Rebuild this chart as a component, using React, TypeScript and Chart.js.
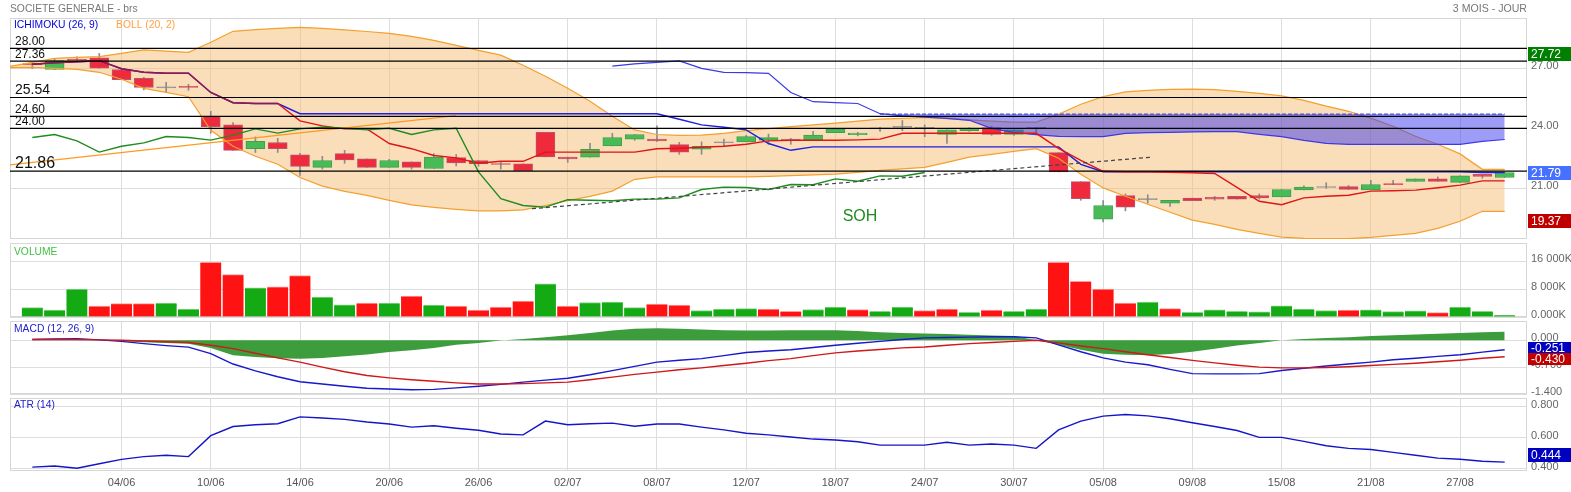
import React, { useEffect, useRef } from "react";
import { Chart, registerables } from "chart.js";
Chart.register(...registerables);

// ---------------- data ----------------
const dates = [
  "29/05","30/05","31/05","03/06","04/06","05/06","06/06","07/06","10/06","11/06",
  "12/06","13/06","14/06","17/06","18/06","19/06","20/06","21/06","24/06","25/06",
  "26/06","27/06","28/06","01/07","02/07","03/07","04/07","05/07","08/07","09/07",
  "10/07","11/07","12/07","15/07","16/07","17/07","18/07","19/07","22/07","23/07",
  "24/07","25/07","26/07","29/07","30/07","31/07","01/08","02/08","05/08","06/08",
  "07/08","08/08","09/08","12/08","13/08","14/08","15/08","16/08","19/08","20/08",
  "21/08","22/08","23/08","26/08","27/08","28/08","29/08",
];
const xTickIdx = [4, 8, 12, 16, 20, 24, 28, 32, 36, 40, 44, 48, 52, 56, 60, 64];

const opens = [
  27.22,26.94,27.45,27.52,26.94,26.50,26.02,26.08,24.60,24.17,
  22.98,23.29,22.67,22.05,22.73,22.47,22.05,22.32,21.99,22.54,
  22.39,22.22,22.22,23.80,22.56,22.56,23.12,23.46,23.46,23.18,
  22.96,23.27,23.32,23.41,23.41,23.41,23.78,23.68,23.97,24.05,
  24.00,23.69,23.88,24.03,23.69,24.00,22.78,21.33,19.46,20.63,
  20.43,20.26,20.51,20.55,20.60,20.63,20.57,20.92,21.04,21.09,
  20.92,21.24,21.35,21.47,21.30,21.70,21.54,
];
const highs = [
  27.31,27.49,27.57,27.74,26.94,26.55,26.30,26.20,24.85,24.29,
  23.57,23.50,22.75,22.60,22.90,22.47,22.45,22.32,22.73,22.69,
  22.39,22.30,22.22,23.80,22.56,23.25,23.75,23.69,24.12,23.30,
  23.32,23.46,23.65,23.71,23.50,23.85,24.00,23.80,24.05,24.39,
  24.17,23.92,24.03,24.10,24.00,24.05,22.78,21.33,20.39,20.72,
  20.68,20.40,20.51,20.60,20.60,20.72,20.94,21.12,21.28,21.14,
  21.40,21.40,21.47,21.57,21.62,21.70,21.79,
];
const lows = [
  26.98,26.94,27.35,27.00,26.43,25.92,25.79,25.90,23.75,22.90,
  22.79,22.79,21.65,21.96,22.25,22.05,22.05,21.96,21.99,22.12,
  22.10,21.96,21.88,22.57,22.30,22.56,23.12,23.40,23.35,22.70,
  22.70,23.10,23.32,23.20,23.20,23.41,23.78,23.62,23.85,23.88,
  23.58,23.24,23.85,23.65,23.65,23.70,21.82,20.40,19.32,19.87,
  20.26,20.09,20.38,20.40,20.46,20.46,20.57,20.92,21.00,20.94,
  20.92,21.18,21.35,21.35,21.28,21.50,21.54,
];
const closes = [
  27.18,27.38,27.40,27.01,26.43,26.04,26.02,26.05,24.08,22.90,
  23.35,22.98,22.10,22.39,22.42,22.05,22.39,22.05,22.56,22.27,
  22.22,22.19,21.88,22.57,22.47,22.95,23.54,23.69,23.37,22.81,
  23.10,23.27,23.59,23.54,23.41,23.66,23.97,23.76,23.97,24.05,
  24.00,23.92,24.00,23.69,23.92,24.00,21.82,20.48,20.14,20.06,
  20.43,20.40,20.38,20.46,20.46,20.52,20.94,21.06,21.04,20.94,
  21.19,21.18,21.47,21.35,21.62,21.60,21.79,
];

// Bollinger (20,2): first value belongs to the day before the first candle (index -1)
const bollUpper = [
  27.10,
  27.30,27.50,27.55,27.58,27.75,27.92,27.86,27.80,28.30,28.85,
  28.93,29.00,29.05,29.00,28.92,28.84,28.75,28.60,28.40,28.15,
  27.90,27.66,27.15,26.60,26.00,25.35,24.60,23.92,23.69,23.65,
  23.66,23.75,23.88,23.98,24.08,24.17,24.26,24.36,24.46,24.50,
  24.54,24.48,24.42,24.36,24.31,24.31,24.70,25.20,25.58,25.82,
  25.90,25.95,25.96,25.93,25.85,25.75,25.62,25.40,25.11,24.85,
  24.51,24.10,23.60,23.20,22.72,21.95,21.95,
];
const bollLower = [
  27.03,
  27.05,27.00,26.95,26.80,26.45,26.00,25.80,25.58,23.90,23.10,
  22.60,22.20,21.54,21.11,20.85,20.65,20.40,20.17,20.05,19.95,
  19.87,19.87,19.92,20.14,20.38,20.60,20.86,21.45,21.57,21.57,
  21.57,21.57,21.57,21.60,21.63,21.67,21.71,21.80,21.90,21.97,
  22.05,22.30,22.56,22.70,22.85,22.98,22.50,21.70,21.02,20.60,
  20.20,19.80,19.41,19.20,18.95,18.75,18.56,18.50,18.48,18.48,
  18.55,18.65,18.75,19.00,19.35,19.85,19.85,
];

// Ichimoku (26, 9)
const tenkan = [
  27.20,27.28,27.33,27.38,26.98,26.80,26.75,26.75,25.79,25.28,
  25.24,25.24,24.37,24.12,23.97,23.97,23.24,22.98,22.64,22.52,
  22.25,22.35,22.35,22.81,22.81,22.81,22.81,22.81,22.98,23.00,
  23.05,23.10,23.20,23.37,23.40,23.40,23.40,23.42,23.46,23.75,
  23.75,23.75,23.75,23.75,23.75,23.75,23.00,22.40,21.85,21.83,
  21.83,21.80,21.78,21.74,21.05,20.35,20.18,20.52,20.60,20.65,
  20.86,20.88,20.91,21.03,21.16,21.37,21.37,
];
const kijun = [
  27.20,27.28,27.33,27.38,26.98,26.80,26.75,26.75,25.79,25.28,
  25.24,25.24,24.73,24.73,24.73,24.73,24.73,24.73,24.73,24.73,
  24.73,24.73,24.73,24.73,24.73,24.73,24.73,24.73,24.73,24.45,
  24.17,24.05,23.92,23.24,22.90,23.07,23.07,23.07,23.07,23.07,
  23.07,23.07,23.07,23.07,23.07,23.07,23.07,22.20,21.83,21.83,
  21.83,21.83,21.83,21.83,21.83,21.83,21.83,21.83,21.83,21.83,
  21.83,21.83,21.83,21.83,21.83,21.79,21.79,
];
const senkouAStart = 26;
const senkouA = [
  27.11,27.22,27.30,27.37,27.00,26.80,26.78,26.75,25.79,25.33,
  25.28,25.24,24.73,24.62,24.56,24.50,24.40,24.00,23.78,23.68,
  23.60,23.58,23.58,23.75,23.78,23.80,23.82,23.83,23.83,23.70,
  23.58,23.40,23.25,23.20,23.20,23.20,23.20,23.20,23.20,23.35,
  23.44,
];
const senkouBStart = 38;
const senkouB = [
  24.71,24.71,24.71,24.71,24.71,24.71,24.71,24.71,24.71,24.71,
  24.71,24.71,24.71,24.71,24.71,24.71,24.71,24.71,24.71,24.71,
  24.71,24.71,24.71,24.71,24.71,24.71,24.71,24.71,24.71,
];
const chikou = [
  23.54,23.69,23.37,22.81,23.10,23.27,23.59,23.54,23.41,23.66,
  23.97,23.76,23.97,24.05,24.00,23.92,24.00,23.69,23.92,24.00,
  21.82,20.48,20.14,20.06,20.43,20.40,20.38,20.46,20.46,20.52,
  20.94,21.06,21.04,20.94,21.19,21.18,21.47,21.35,21.62,21.60,
  21.79,
];

// drawn horizontal levels and trend lines
const priceLevels = [28.0, 27.36, 25.54, 24.6, 24.0, 21.86];
const trendX = [22.4, 50.1];
const trendY = [19.98, 22.55];
const orangeX = [-1, 19];
const orangeY = [22.17, 24.63];
const noteText = "SOH";
const noteX = 37.1;
const noteY = 19.61;
const mainLastValues = [27.72, 21.79, 19.37];

// Volume (thousands)
const volumes = [
  2700,1950,7950,3100,3800,3800,3950,2250,15600,12100,
  8350,8650,11850,5700,3500,3950,3950,6000,3400,3100,
  1950,2800,4550,9500,3100,4150,4250,2700,3700,3400,
  1850,2250,2400,2250,1650,2150,2800,2150,1650,2800,
  1850,2250,1350,1950,1650,2250,15600,10200,7950,3950,
  4250,2400,1350,2050,1650,1450,3200,2250,1850,1950,
  2050,1550,1750,1250,2800,1650,500,
];
const volumeUp = [
  1,1,1,0,0,0,1,1,0,0, 1,0,0,1,1,0,1,0,1,0,
  0,0,0,1,0,1,1,1,0,0, 1,1,1,0,0,1,1,0,1,1,
  0,0,1,0,1,1,0,0,0,0, 1,0,1,1,1,1,1,1,1,0,
  1,1,1,0,1,1,1,
];

// MACD (12, 26, 9)
const macdLine = [
  0.02,0.03,0.04,0.01,-0.03,-0.09,-0.14,-0.18,-0.35,-0.62,
  -0.80,-0.95,-1.08,-1.14,-1.20,-1.25,-1.27,-1.29,-1.28,-1.24,
  -1.20,-1.15,-1.09,-1.04,-0.99,-0.90,-0.79,-0.68,-0.57,-0.52,
  -0.48,-0.40,-0.32,-0.28,-0.25,-0.19,-0.13,-0.08,-0.03,0.02,
  0.06,0.07,0.08,0.09,0.09,0.06,-0.12,-0.30,-0.46,-0.57,
  -0.64,-0.76,-0.87,-0.875,-0.875,-0.87,-0.79,-0.73,-0.67,-0.62,
  -0.57,-0.51,-0.47,-0.42,-0.38,-0.31,-0.25,
];
const macdSignal = [
  0.02,0.02,0.02,0.01,0.00,-0.02,-0.04,-0.06,-0.13,-0.22,
  -0.34,-0.46,-0.57,-0.70,-0.82,-0.92,-0.98,-1.03,-1.07,-1.11,
  -1.14,-1.14,-1.13,-1.11,-1.09,-1.03,-0.96,-0.89,-0.83,-0.77,
  -0.72,-0.66,-0.60,-0.53,-0.48,-0.40,-0.33,-0.28,-0.24,-0.20,
  -0.175,-0.13,-0.09,-0.06,-0.03,0.00,-0.07,-0.15,-0.22,-0.30,
  -0.38,-0.45,-0.525,-0.59,-0.65,-0.70,-0.72,-0.72,-0.71,-0.69,
  -0.66,-0.63,-0.60,-0.56,-0.52,-0.47,-0.43,
];
const macdHist = [
  0.00,0.01,0.02,0.00,-0.03,-0.05,-0.07,-0.09,-0.20,-0.39,
  -0.44,-0.47,-0.48,-0.46,-0.42,-0.37,-0.31,-0.26,-0.20,-0.12,
  -0.07,-0.01,0.03,0.08,0.13,0.19,0.25,0.30,0.31,0.30,
  0.28,0.26,0.25,0.25,0.26,0.26,0.26,0.24,0.21,0.19,
  0.175,0.16,0.14,0.12,0.11,0.00,-0.12,-0.25,-0.35,-0.38,
  -0.39,-0.36,-0.30,-0.22,-0.14,-0.07,0.00,0.03,0.06,0.08,
  0.11,0.13,0.15,0.17,0.19,0.21,0.22,
];
const macdLastValues = [-0.251, -0.43];

// ATR (14)
const atr = [
  0.412,0.419,0.405,0.434,0.462,0.480,0.489,0.480,0.615,0.674,
  0.685,0.692,0.736,0.729,0.720,0.703,0.690,0.670,0.679,0.663,
  0.650,0.626,0.620,0.709,0.685,0.692,0.696,0.676,0.690,0.690,
  0.670,0.652,0.631,0.620,0.606,0.593,0.587,0.576,0.554,0.554,
  0.554,0.572,0.554,0.561,0.554,0.533,0.652,0.709,0.741,0.752,
  0.743,0.724,0.698,0.674,0.648,0.604,0.604,0.578,0.550,0.533,
  0.526,0.507,0.489,0.470,0.463,0.450,0.444,
];
const atrLast = 0.444;

// axis ticks
const mainTicks = [27, 24, 21];
const volTicks = [16000, 8000, 0];
const volTickLabels = ["16 000K", "8 000K", "0.000K"];
const macdTicks = [0, -0.7, -1.4];
const atrTicks = [0.8, 0.6, 0.4];

// ---------------- style ----------------
const W = 1571;
const FONT = '"Liberation Sans", Arial, Helvetica, sans-serif';
const GRID = "#dddddd";
const levelFontSize = [12, 12, 14, 12, 12, 16];

const pts = (arr: number[], start = 0) => arr.map((y, k) => ({ x: k + start, y }));

function xScale(show: boolean) {
  return {
    type: "linear",
    min: -1,
    max: 67,
    offset: false,
    afterBuildTicks: (s: any) => {
      s.ticks = xTickIdx.map((v) => ({ value: v }));
    },
    afterFit: (s: any) => {
      s.height = show ? 21 : 0;
      s.paddingLeft = 0;
      s.paddingRight = 0;
    },
    grid: { color: GRID, lineWidth: 1, drawTicks: false, offset: false },
    border: { display: false },
    ticks: {
      display: show,
      autoSkip: false,
      maxRotation: 0,
      padding: 5,
      color: "#555",
      font: { family: FONT, size: 11 },
      callback: (v: number) => dates[v] ?? "",
    },
  };
}

function yScale(min: number, max: number, ticks: number[], fmt: (v: number, i: number) => string) {
  return {
    type: "linear",
    position: "right",
    min,
    max,
    beginAtZero: false,
    afterBuildTicks: (s: any) => {
      s.ticks = ticks.map((v) => ({ value: v }));
    },
    afterFit: (s: any) => {
      s.width = 44;
      s.paddingTop = 0;
      s.paddingBottom = 0;
    },
    grid: { color: GRID, lineWidth: 1, drawTicks: false },
    border: { display: false },
    ticks: {
      padding: 4,
      color: "#666",
      labelOffset: -2,
      font: { family: FONT, size: 11 },
      callback: (v: number, i: number) => fmt(v, i),
    },
  };
}

type Title = { text: string; color: string };
type Box = { value: number; text: string; color: string; dy?: number; h?: number };

function panelPlugin(titles: Title[], boxes: Box[], titleDy: number) {
  return {
    id: "panelDecor",
    beforeDatasetsDraw(chart: any) {
      const { ctx, chartArea: a } = chart;
      ctx.save();
      ctx.strokeStyle = "#d6d6d6";
      ctx.lineWidth = 1;
      ctx.strokeRect(
        Math.round(a.left) + 0.5,
        Math.round(a.top) + 0.5,
        Math.round(a.right - a.left) - 1,
        Math.round(a.bottom - a.top) - 1
      );
      ctx.restore();
    },
    afterDraw(chart: any) {
      const { ctx, chartArea: a, scales } = chart;
      ctx.save();
      ctx.font = `10.3px ${FONT}`;
      ctx.textBaseline = "middle";
      let x = a.left + 4;
      titles.forEach((t) => {
        ctx.fillStyle = t.color;
        ctx.fillText(t.text, x, a.top + titleDy);
        x += ctx.measureText(t.text).width + 18;
      });
      boxes.forEach((b) => {
        const h = b.h ?? 14;
        const yc = scales.y.getPixelForValue(b.value) + (b.dy ?? 0);
        const x0 = a.right + 1;
        ctx.fillStyle = b.color;
        ctx.fillRect(x0, Math.round(yc - h / 2), chart.width - x0, h);
        ctx.fillStyle = "#ffffff";
        ctx.font = `12px ${FONT}`;
        ctx.textAlign = "left";
        ctx.fillText(b.text, x0 + 3, Math.round(yc) + 0.5);
      });
      ctx.restore();
    },
  };
}

const mainExtra = {
  id: "mainExtra",
  afterDatasetsDraw(chart: any) {
    const { ctx, chartArea: a, scales } = chart;
    const ys = scales.y;
    const xs = scales.x;
    ctx.save();
    ctx.fillStyle = "#111";
    ctx.textBaseline = "alphabetic";
    priceLevels.forEach((v, k) => {
      ctx.font = `${levelFontSize[k]}px ${FONT}`;
      ctx.fillText(v.toFixed(2), a.left + 5, ys.getPixelForValue(v) - 3.5);
    });
    ctx.font = `16px ${FONT}`;
    ctx.fillStyle = "#1E8C1E";
    ctx.textAlign = "center";
    ctx.textBaseline = "middle";
    ctx.fillText(noteText, xs.getPixelForValue(noteX), ys.getPixelForValue(noteY));
    ctx.restore();
  },
  afterDraw(chart: any) {
    const { ctx, chartArea: a } = chart;
    ctx.save();
    ctx.font = `10.3px ${FONT}`;
    ctx.fillStyle = "#777";
    ctx.textBaseline = "middle";
    ctx.fillText("SOCIETE GENERALE - brs", a.left, 9);
    ctx.textAlign = "right";
    ctx.font = `10.6px ${FONT}`;
    ctx.fillText("3 MOIS - JOUR", a.right, 9);
    ctx.restore();
  },
};

function baseOptions(padTop: number, padBottom: number, y: any, showX: boolean) {
  return {
    responsive: false,
    animation: false,
    events: [],
    layout: { padding: { left: 10, right: 0, top: padTop, bottom: padBottom } },
    plugins: { legend: { display: false }, tooltip: { enabled: false } },
    scales: { x: xScale(showX), y },
  };
}

const line = (data: any[], color: string, width: number, order: number, extra: any = {}) => ({
  type: "line",
  data,
  borderColor: color,
  borderWidth: width,
  pointRadius: 0,
  tension: 0,
  fill: false,
  order,
  ...extra,
});

function mainConfig(): any {
  const ds: any[] = [];
  const add = (d: any) => {
    ds.push(d);
    return ds.length - 1;
  };
  const RED = "#EF2A3C";
  const GREEN = "#47BB55";
  const bodies = opens.map((o, i) => ({ x: i, y: [o, closes[i]] }));
  const bodyFill = opens.map((o, i) => (closes[i] > o ? GREEN : closes[i] < o ? RED : "#8c8c8c"));
  const bodyBorder = opens.map((o, i) => (closes[i] > o ? "#3FA04C" : closes[i] < o ? "#B9566A" : "#8c8c8c"));
  const wicks = highs.map((h, i) => ({ x: i, y: [lows[i], h] }));

  const iBL = add(line(pts(bollLower, -1), "rgba(0,0,0,0)", 0, 13));
  add(line(pts(bollUpper, -1), "rgba(0,0,0,0)", 0, 12, { fill: iBL, backgroundColor: "rgba(246,189,118,0.5)" }));
  add({ type: "bar", data: wicks, backgroundColor: "#8c8c8c", barThickness: 1, grouped: false, order: 11 });
  add({
    type: "bar",
    data: bodies,
    backgroundColor: bodyFill,
    borderColor: bodyBorder,
    borderWidth: 1,
    borderSkipped: false,
    barThickness: 19,
    minBarLength: 1,
    grouped: false,
    order: 10,
  });
  add(line(pts(bollUpper, -1), "#F4A02E", 1.2, 9));
  add(line(pts(bollLower, -1), "#F4A02E", 1.2, 9));
  const iCL = add(line(pts(senkouA.slice(senkouBStart - senkouAStart), senkouBStart), "rgba(0,0,0,0)", 0, 8));
  add(line(pts(senkouB, senkouBStart), "#4A4AF0", 1.2, 7, {
    borderDash: [4, 2],
    fill: iCL,
    backgroundColor: "rgba(50,50,240,0.48)",
  }));
  add(line(pts(senkouA, senkouAStart), "#3A3AE6", 1.2, 6));
  add(line(pts(kijun), "#1E1EE0", 1.4, 5));
  add(line(pts(tenkan), "#E01515", 1.4, 4, {
    segment: { borderColor: (c: any) => (c.p0DataIndex < 11 ? "#9A1842" : "#E01515") },
  }));
  add(line(pts(chikou), "#1E8C1E", 1.4, 3));
  add(line(orangeX.map((x, k) => ({ x, y: orangeY[k] })), "#FF9A1A", 1.2, 2));
  add(line(trendX.map((x, k) => ({ x, y: trendY[k] })), "#444444", 1.2, 2, { borderDash: [4, 3] }));
  priceLevels.forEach((v) => add(line([{ x: -1, y: v }, { x: 67, y: v }], "#000000", 1.2, 1)));

  return {
    type: "line",
    data: { datasets: ds },
    options: baseOptions(18, 1, yScale(18.465, 29.515, mainTicks, (v) => v.toFixed(2)), false),
    plugins: [
      panelPlugin(
        [
          { text: "ICHIMOKU (26, 9)", color: "#0000DD" },
          { text: "BOLL (20, 2)", color: "#FFA040" },
        ],
        [
          { value: mainLastValues[0], text: mainLastValues[0].toFixed(2), color: "#008000" },
          { value: mainLastValues[1], text: mainLastValues[1].toFixed(2), color: "#4670FF" },
          { value: mainLastValues[2], text: mainLastValues[2].toFixed(2), color: "#C00000" },
        ],
        7
      ),
      mainExtra,
    ],
  };
}

function volumeConfig(): any {
  return {
    type: "line",
    data: {
      datasets: [
        {
          type: "bar",
          data: pts(volumes),
          backgroundColor: volumeUp.map((u) => (u ? "#14AA14" : "#FF1212")),
          borderColor: volumeUp.map((u) => (u ? "#86D486" : "#FF9A9A")),
          borderWidth: { top: 1, left: 0, right: 0, bottom: 0 },
          barThickness: 21,
          grouped: false,
        },
      ],
    },
    options: baseOptions(3, 3, yScale(0, 21150, volTicks, (_v, i) => volTickLabels[i]), false),
    plugins: [panelPlugin([{ text: "VOLUME", color: "#44C044" }], [], 9)],
  };
}

function macdConfig(): any {
  return {
    type: "line",
    data: {
      datasets: [
        line(pts(macdSignal), "#D01818", 1.4, 1),
        line(pts(macdLine), "#1818CC", 1.4, 2),
        line(pts(macdHist), "#3D9D3D", 0, 3, { fill: "origin", backgroundColor: "#3D9D3D" }),
      ],
    },
    options: baseOptions(1, 2, yScale(-1.4, 0.5, macdTicks, (v) => v.toFixed(3)), false),
    plugins: [
      panelPlugin(
        [{ text: "MACD (12, 26, 9)", color: "#1C1CC8" }],
        [
          { value: macdLastValues[1], text: macdLastValues[1].toFixed(3), color: "#C00000", h: 12, dy: 2 },
          { value: macdLastValues[0], text: macdLastValues[0].toFixed(3), color: "#0000C0", h: 11, dy: -2 },
        ],
        8
      ),
    ],
  };
}

function atrConfig(): any {
  return {
    type: "line",
    data: { datasets: [line(pts(atr), "#1515C8", 1.4, 1)] },
    options: baseOptions(2, 0, yScale(0.387, 0.858, atrTicks, (v) => v.toFixed(3)), true),
    plugins: [
      panelPlugin(
        [{ text: "ATR (14)", color: "#1C1CC8" }],
        [{ value: atrLast, text: atrLast.toFixed(3), color: "#0000C0", dy: -7 }],
        7
      ),
    ],
  };
}

export default function App() {
  const r1 = useRef<HTMLCanvasElement>(null);
  const r2 = useRef<HTMLCanvasElement>(null);
  const r3 = useRef<HTMLCanvasElement>(null);
  const r4 = useRef<HTMLCanvasElement>(null);

  useEffect(() => {
    document.body.style.margin = "0";
    const charts = [
      new Chart(r1.current as HTMLCanvasElement, mainConfig()),
      new Chart(r2.current as HTMLCanvasElement, volumeConfig()),
      new Chart(r3.current as HTMLCanvasElement, macdConfig()),
      new Chart(r4.current as HTMLCanvasElement, atrConfig()),
    ];
    return () => charts.forEach((c) => c.destroy());
  }, []);

  const cs = (top: number): React.CSSProperties => ({ position: "absolute", left: 0, top });
  return (
    <div style={{ position: "relative", width: W, height: 492, background: "#ffffff", overflow: "hidden" }}>
      <canvas ref={r1} width={W} height={240} style={cs(0)} />
      <canvas ref={r2} width={W} height={80} style={cs(240)} />
      <canvas ref={r3} width={W} height={76} style={cs(320)} />
      <canvas ref={r4} width={W} height={96} style={cs(396)} />
    </div>
  );
}
